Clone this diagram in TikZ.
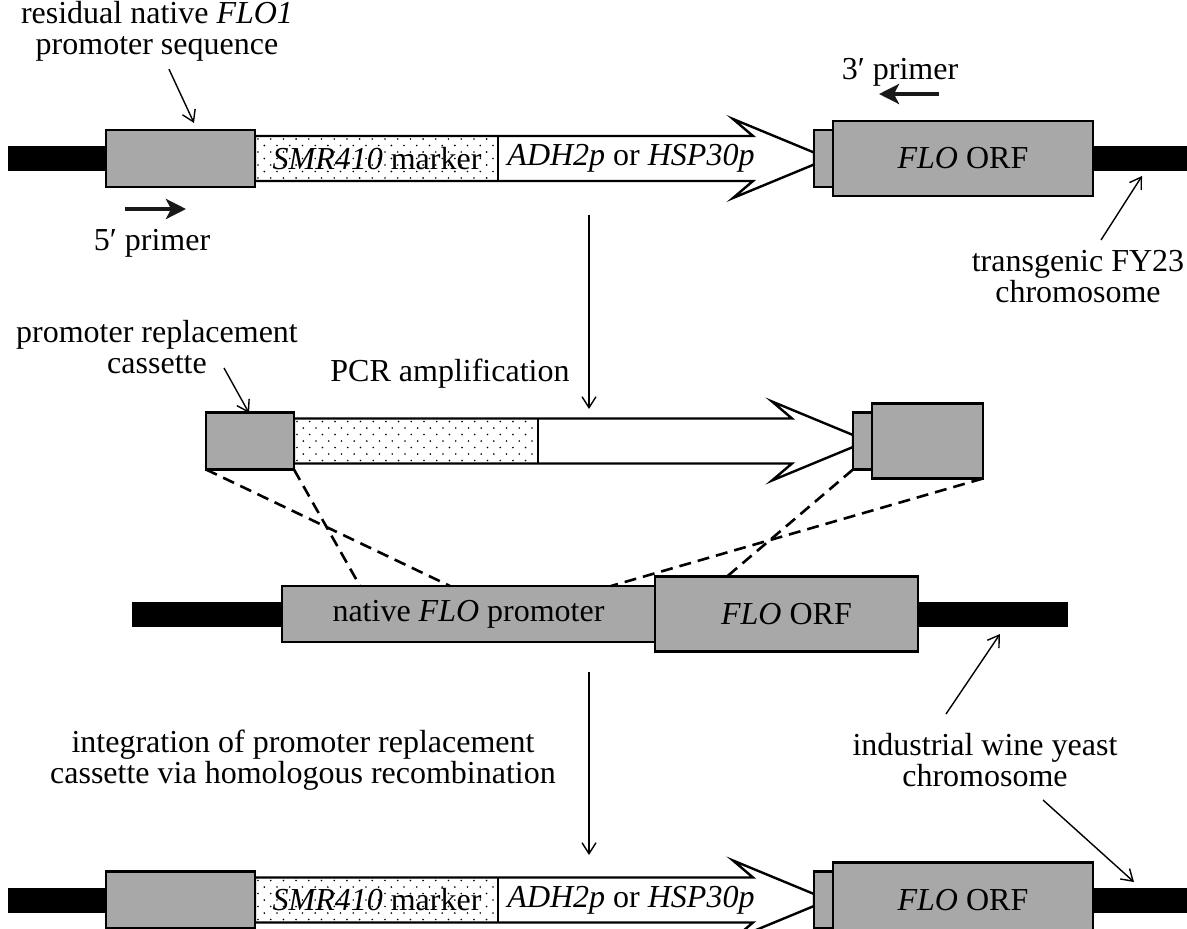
\documentclass[tikz,border=0pt]{standalone}
\usepackage{fontspec}
\setmainfont{Liberation Serif}
\usetikzlibrary{arrows.meta}

\definecolor{boxgray}{RGB}{168,168,168}
\definecolor{inkblack}{RGB}{25,25,25}

\tikzset{
  seg/.style={draw=black, line width=2.4pt, fill=boxgray, inner sep=0pt, outer sep=0pt},
  chrom/.style={fill=black, draw=none, inner sep=0pt, outer sep=0pt},
  lbl/.style={font=\fontsize{32}{31}\selectfont, inner sep=0pt, align=center},
  pointer/.style={line width=1.4pt, -{Straight Barb[length=11pt,width=14pt,line width=1.4pt]}},
  primer/.style={line width=4pt, draw=inkblack, -{Stealth[length=20pt,width=20pt,inset=5pt]}},
  homology/.style={line width=2.6pt, dash pattern=on 12pt off 7pt},
  cassetteline/.style={draw=black, line width=2.4pt, line join=miter},
}

% staggered stipple inside a rectangle: x1 y1 x2 y2
\newcommand\stipple[4]{%
  \begin{scope}
    \clip (#1,#2) rectangle (#3,#4);
    \foreach \r in {0,...,7}{
      \foreach \c in {0,...,21}{
        \fill ({#1+3+\c*12.7+mod(\r,2)*6.35},{#2+3+\r*6.5}) circle (0.9pt);
      }
    }
  \end{scope}}

% promoter-replacement construct in the chromosome: #1 name prefix, #2 centre line
\newcommand\constructrow[2]{%
  \node[chrom, minimum width=112pt, minimum height=25pt] (#1barL) at (64,#2) {};
  \node[chrom, minimum width=104pt, minimum height=25pt] (#1barR) at (1137,#2) {};
  \fill[white] (255,{#2-22.5}) -- (753,{#2-22.5}) -- (733,{#2-39.5}) -- (814,{#2-6})
     -- (814,{#2+6}) -- (733,{#2+39.5}) -- (753,{#2+22.5}) -- (255,{#2+22.5}) -- cycle;
  \stipple{255}{#2-22.5}{498}{#2+22.5}
  \draw[cassetteline] (255,{#2-22.5}) -- (753,{#2-22.5}) -- (733,{#2-39.5}) -- (814,{#2-6})
     -- (814,{#2+6}) -- (733,{#2+39.5}) -- (753,{#2+22.5}) -- (255,{#2+22.5}) -- cycle;
  \draw[line width=2pt] (498,{#2-22.5}) -- (498,{#2+22.5});
  \node[seg, minimum width=149pt, minimum height=57pt] (#1flank) at (180.5,#2) {};
  \node[seg, minimum width=19pt, minimum height=57pt] (#1stub) at (823.5,#2) {};
  \node[seg, minimum width=260pt, minimum height=75pt] (#1orf) at (963,#2) {};
  \node[lbl] (#1marker) at (377,#2) {\textit{SMR410} marker};
  \node[lbl] (#1prom) at (631,#2) {\textit{ADH2p} or \textit{HSP30p}};
  \node[lbl] (#1orftext) at (963,#2) {\textit{FLO} ORF};
}

\begin{document}
\begin{tikzpicture}[x=1pt,y=-1pt]
\clip (0,0) rectangle (1187,929);
\fill[white] (0,0) rectangle (1187,929);

% ---------- transgenic FY23 chromosome ----------
\constructrow{t}{158.5}

\node[lbl] (resid) at (157,31) {residual native \textit{FLO1}\\promoter sequence};
\coordinate (residtip) at (194,123);
\draw[pointer] (resid.south) ++(12,8) coordinate (residfrom) (residfrom) -- (residtip);

\node[lbl] (fiveP) at (152,243) {5′ primer};
\coordinate (fiveA) at (125,209);
\coordinate (fiveB) at (186,209);
\draw[primer] (fiveA) -- (fiveB);

\node[lbl] (threeP) at (900,72) {3′ primer};
\coordinate (threeA) at (939,94);
\coordinate (threeB) at (879,94);
\draw[primer] (threeA) -- (threeB);

\node[lbl] (fy23) at (1078,277) {transgenic FY23\\chromosome};
\coordinate (fy23from) at (1101,240);
\coordinate (fy23tip) at (1142,176);
\draw[pointer] (fy23from) -- (fy23tip);

% ---------- PCR step ----------
\coordinate (pcrA) at (589,215);
\coordinate (pcrB) at (589,409);
\draw[pointer] (pcrA) -- (pcrB);
\node[lbl] (pcr) at (450,374) {PCR amplification};

% ---------- promoter replacement cassette ----------
\node[lbl] (casslbl) at (157,347) {promoter replacement\\cassette};
\coordinate (cassfrom) at (224,368);
\coordinate (casstip) at (249,413);
\draw[pointer] (cassfrom) -- (casstip);

\fill[white] (294,418.5) -- (792,418.5) -- (772,401.5) -- (853,435) -- (853,447)
   -- (772,480.5) -- (792,463.5) -- (294,463.5) -- cycle;
\stipple{294}{418.5}{538}{463.5}
\draw[cassetteline] (294,418.5) -- (792,418.5) -- (772,401.5) -- (853,435) -- (853,447)
   -- (772,480.5) -- (792,463.5) -- (294,463.5) -- cycle;
\draw[line width=2pt] (538,418.5) -- (538,463.5);
\node[seg, minimum width=88pt, minimum height=57pt] (cflank) at (250,441) {};
\node[seg, minimum width=19pt, minimum height=57pt] (cstub) at (862.5,441) {};
\node[seg, minimum width=111pt, minimum height=75pt] (corf) at (927.5,441) {};

% ---------- industrial wine yeast chromosome ----------
\node[chrom, minimum width=158pt, minimum height=25pt] (mbarL) at (211,614) {};
\node[chrom, minimum width=158pt, minimum height=25pt] (mbarR) at (989,614) {};
\node[seg, minimum width=373pt, minimum height=56pt] (mprom) at (468.5,614) {};
\node[seg, minimum width=263pt, minimum height=75pt] (morf) at (786.5,614) {};
\node[lbl] (mpromtext) at (468.5,614) {native \textit{FLO} promoter};
\node[lbl] (morftext) at (786.5,614) {\textit{FLO} ORF};

% homologous regions
\coordinate (hA) at (450,586);
\coordinate (hB) at (360,586);
\coordinate (hC) at (727,576.5);
\coordinate (hD) at (611,586);
\draw[homology] (cflank.south west) -- (hA);
\draw[homology] (cflank.south east) -- (hB);
\draw[homology] (cstub.south west) -- (hC);
\draw[homology] (corf.south east) -- (hD);

\node[lbl] (wine) at (985,760) {industrial wine yeast\\chromosome};
\coordinate (winefrom) at (946,714);
\coordinate (winetip) at (1000,634);
\draw[pointer] (winefrom) -- (winetip);
\coordinate (wine2from) at (1043,800);
\coordinate (wine2tip) at (1134,882);
\draw[pointer] (wine2from) -- (wine2tip);

% ---------- integration step ----------
\coordinate (intA) at (589,672);
\coordinate (intB) at (589,855);
\draw[pointer] (intA) -- (intB);
\node[lbl] (integ) at (303,760) {integration of promoter replacement\\cassette via homologous recombination};

% ---------- resulting chromosome ----------
\constructrow{b}{900}

\end{tikzpicture}
\end{document}
